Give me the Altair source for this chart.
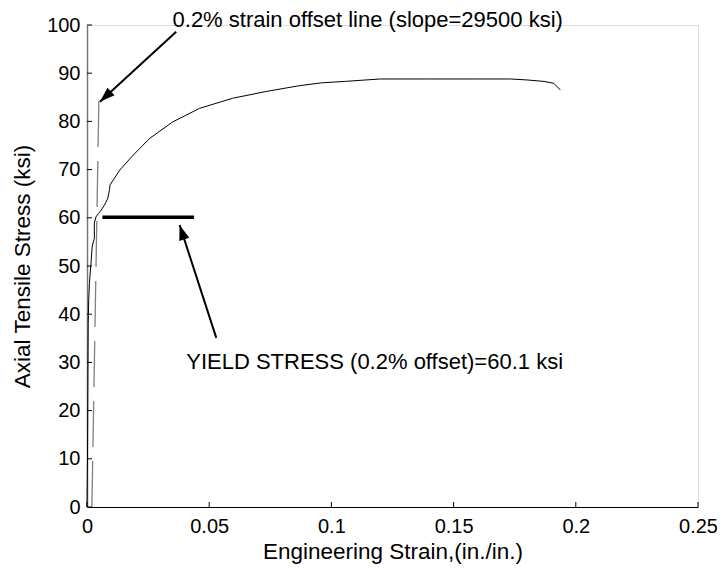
import math
import altair as alt
import pandas as pd

# ---- data ----
strain = [0.0, 0.0002, 0.0003, 0.0004, 0.0005, 0.0007, 0.0010, 0.0013, 0.0017, 0.0021,
          0.0026, 0.0030, 0.0030, 0.0037, 0.0047, 0.0058, 0.0071, 0.0085, 0.0092, 0.0094,
          0.0134, 0.0189, 0.0257, 0.0351, 0.0460, 0.0596, 0.0732, 0.0868, 0.0960, 0.1055,
          0.1200, 0.1400, 0.1600, 0.1733, 0.1800, 0.1870, 0.1910, 0.1937]
stress = [0.0, 10.0, 20.0, 30.0, 38.0, 43.0, 46.4, 48.5, 50.9, 54.0,
          55.0, 55.7, 58.9, 60.2, 60.9, 61.6, 62.6, 64.0, 65.8, 66.8,
          69.9, 73.0, 76.5, 79.9, 82.7, 84.8, 86.2, 87.4, 88.0, 88.3,
          88.8, 88.8, 88.8, 88.8, 88.6, 88.3, 87.9, 86.5]

offset_strain = [0.002, 0.00488]
offset_stress = [0.0, 85.0]

yield_strain = [0.0063, 0.0438]
yield_stress = [60.1, 60.1]

x_ticks = [0, 0.05, 0.1, 0.15, 0.2, 0.25]
y_ticks = [0, 10, 20, 30, 40, 50, 60, 70, 80, 90, 100]

arrow_tail_x = [0.0365, 0.0529]
arrow_tail_y = [98.6, 35.1]
arrow_head_x = [0.0053, 0.0379]
arrow_head_y = [84.1, 58.5]

note_text = ["0.2% strain offset line (slope=29500 ksi)",
             "YIELD STRESS (0.2% offset)=60.1 ksi"]
note_x = [0.0350, 0.0406]
note_y = [99.6, 28.6]

# ---- layout ----
W, H = 611, 482
FONT = "Liberation Sans"
XMAX, YMAX = 0.25, 100

xs = alt.Scale(domain=[0, XMAX], nice=False, zero=False)
ys = alt.Scale(domain=[0, YMAX], nice=False, zero=False)
xaxis = alt.Axis(values=x_ticks, format="~g", title="Engineering Strain,(in./in.)",
                 grid=False, ticks=False, labelPadding=9, titlePadding=4,
                 labelFlush=False, labelOverlap=False,
                 domainColor="black", domainWidth=1, labelFontSize=20, titleFontSize=22.5,
                 labelColor="black", titleColor="black", titleFontWeight="normal")
yaxis = alt.Axis(values=y_ticks, format="d", title="Axial Tensile Stress (ksi)",
                 grid=False, ticks=False, labelPadding=7, titlePadding=12,
                 labelFlush=False, labelOverlap=False,
                 domainColor="#777777", domainWidth=1.5, labelFontSize=20, titleFontSize=22.5,
                 labelColor="black", titleColor="black", titleFontWeight="normal")


def X(f):
    return alt.X(f, type="quantitative", scale=xs, axis=xaxis)


def Y(f):
    return alt.Y(f, type="quantitative", scale=ys, axis=yaxis)


curve_df = pd.DataFrame({"x": strain, "y": stress, "o": list(range(len(strain)))})
offset_df = pd.DataFrame({"x": offset_strain, "y": offset_stress, "o": [0, 1]})
yield_df = pd.DataFrame({"x": yield_strain, "y": yield_stress})
xt_df = pd.DataFrame({"x": x_ticks})
yt_df = pd.DataFrame({"y": y_ticks})

# arrow angles in pixel space
angles = []
for tx, ty, hx, hy in zip(arrow_tail_x, arrow_tail_y, arrow_head_x, arrow_head_y):
    dx = (hx - tx) * W / XMAX
    dy = -(hy - ty) * H / YMAX
    angles.append(math.degrees(math.atan2(dx, -dy)) % 360)

arrow_df = pd.DataFrame({"x": arrow_tail_x, "y": arrow_tail_y,
                         "x2": arrow_head_x, "y2": arrow_head_y})
head_df = pd.DataFrame({"x": arrow_head_x, "y": arrow_head_y, "a": angles})
note_df = pd.DataFrame({"x": note_x, "y": note_y, "t": note_text})

curve = alt.Chart(curve_df).mark_line(color="black", strokeWidth=1).encode(
    x=X("x"), y=Y("y"), order="o:Q")

offset = alt.Chart(offset_df).mark_line(color="#808080", strokeWidth=1.3,
                                        strokeDash=[46, 14]).encode(
    x=X("x"), y=Y("y"), order="o:Q")

yline = alt.Chart(yield_df).mark_line(color="black", strokeWidth=3.5).encode(
    x=X("x"), y=Y("y"))

xticks = alt.Chart(xt_df).mark_rule(color="black", strokeWidth=1).encode(
    x=X("x"), y=alt.value(H), y2=alt.value(H - 5))
yticks = alt.Chart(yt_df).mark_rule(color="black", strokeWidth=1).encode(
    y=Y("y"), x=alt.value(0), x2=alt.value(5))

arrows = alt.Chart(arrow_df).mark_rule(color="black", strokeWidth=2).encode(
    x=X("x"), y=Y("y"), x2="x2", y2="y2")

heads = alt.Chart(head_df).mark_point(
    shape="M0,0L-0.7,2L0.7,2Z", filled=True, color="black", opacity=1,
    size=225, strokeWidth=0).encode(
    x=X("x"), y=Y("y"), angle=alt.Angle("a:Q", scale=None))

notes = alt.Chart(note_df).mark_text(
    align="left", baseline="alphabetic", font=FONT, fontSize=22, color="black").encode(
    x=X("x"), y=Y("y"), text="t:N")

chart = alt.layer(offset, curve, yline, xticks, yticks, arrows, heads, notes).properties(
    width=W, height=H,
    autosize=alt.AutoSizeParams(type="none"),
    padding={"left": 79, "top": 17, "right": 19, "bottom": 60},
).configure_view(stroke=None).configure(font=FONT).configure_axis(
    labelFont=FONT, titleFont=FONT)

chart.save("out.html", embed_options={"renderer": "svg", "actions": False})
